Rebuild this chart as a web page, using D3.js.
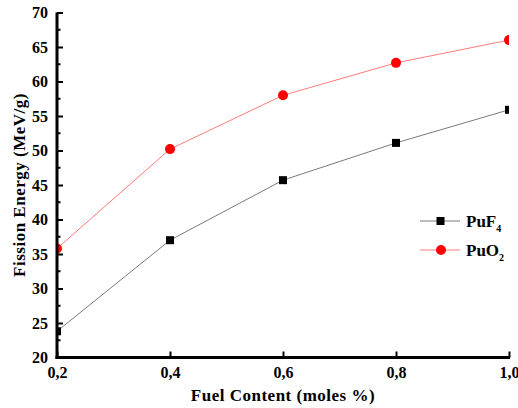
<!DOCTYPE html>
<html>
<head>
<meta charset="utf-8">
<script src="https://cdn.jsdelivr.net/npm/d3@7"></script>
<style>
    body { margin: 0; background: #fff; }
    text { font-family: "Liberation Serif", "Times New Roman", serif; font-weight: bold; fill: #000; }
</style>
</head>
<body>
<div class="chart__container"></div>
<script>
/*---------------------------Data---------------------------*/

const fuelContent = [0.2, 0.4, 0.6, 0.8, 1.0];
const puf4Energy = [23.8, 37.0, 45.7, 51.1, 55.9];
const puo2Energy = [35.8, 50.2, 58.0, 62.7, 66.0];
const xTicks = [0.2, 0.4, 0.6, 0.8, 1.0];
const yTicks = [20, 25, 30, 35, 40, 45, 50, 55, 60, 65, 70];
const yMinorTicks = [22.5, 27.5, 32.5, 37.5, 42.5, 47.5, 52.5, 57.5, 62.5, 67.5];

/*---------------------------Init---------------------------*/

const WIDTH = 518;
const HEIGHT = 408;
const MARGIN = { top: 12.5, right: 9, bottom: 50.5, left: 57 };

const svg = d3.select(".chart__container").append("svg")
    .attr("width", WIDTH)
    .attr("height", HEIGHT);

const xScale = d3.scaleLinear().domain([0.2, 1.0]).range([MARGIN.left, WIDTH - MARGIN.right]);
const yScale = d3.scaleLinear().domain([20, 70]).range([HEIGHT - MARGIN.bottom, MARGIN.top]);

//clip so edge markers are cut like the original

svg.append("clipPath").attr("id", "plot-clip")
    .append("rect")
    .attr("x", MARGIN.left)
    .attr("y", MARGIN.top)
    .attr("width", WIDTH - MARGIN.left - MARGIN.right)
    .attr("height", HEIGHT - MARGIN.top - MARGIN.bottom);

//series

const plot = svg.append("g").attr("clip-path", "url(#plot-clip)");

const line = d3.line().x(d => xScale(d[0])).y(d => yScale(d[1]));

const puf4 = fuelContent.map((x, i) => [x, puf4Energy[i]]);
const puo2 = fuelContent.map((x, i) => [x, puo2Energy[i]]);

plot.append("path").datum(puf4)
    .attr("d", line).attr("fill", "none")
    .attr("stroke", "#7a7a7a").attr("stroke-width", 1);

plot.append("path").datum(puo2)
    .attr("d", line).attr("fill", "none")
    .attr("stroke", "#ff7b7b").attr("stroke-width", 1);

plot.selectAll(".sq").data(puf4).enter().append("rect")
    .attr("class", "sq")
    .attr("x", d => xScale(d[0]) - 4)
    .attr("y", d => yScale(d[1]) - 4)
    .attr("width", 8).attr("height", 8)
    .attr("fill", "#000");

plot.selectAll(".dot").data(puo2).enter().append("circle")
    .attr("class", "dot")
    .attr("cx", d => xScale(d[0]))
    .attr("cy", d => yScale(d[1]))
    .attr("r", 5)
    .attr("fill", "#ff0000");

//x-axis

const xAxis = d3.axisBottom(xScale)
    .tickValues(xTicks)
    .tickSize(-6)
    .tickPadding(9)
    .tickFormat(d => d3.format(".1f")(d).replace(".", ","));

const gx = svg.append("g")
    .attr("transform", `translate(0,${HEIGHT - MARGIN.bottom})`)
    .call(xAxis);
gx.select(".domain").remove();
gx.selectAll(".tick line").attr("stroke", "#000").attr("stroke-width", 2);
gx.selectAll(".tick text").attr("font-size", 16);
gx.append("line")
    .attr("x1", MARGIN.left - 1.5).attr("x2", WIDTH - MARGIN.right + 1)
    .attr("stroke", "#000").attr("stroke-width", 3);

//y-axis

const yAxis = d3.axisLeft(yScale)
    .tickValues(yTicks)
    .tickSize(-6)
    .tickPadding(9);

const gy = svg.append("g")
    .attr("transform", `translate(${MARGIN.left},0)`)
    .call(yAxis);
gy.select(".domain").remove();
gy.selectAll(".tick line").attr("stroke", "#000").attr("stroke-width", 2);
gy.selectAll(".tick text").attr("font-size", 16);

gy.selectAll(".minor").data(yMinorTicks).enter().append("line")
    .attr("class", "minor")
    .attr("x1", 0).attr("x2", 3.5)
    .attr("y1", d => yScale(d)).attr("y2", d => yScale(d))
    .attr("stroke", "#000").attr("stroke-width", 2);

gy.append("line")
    .attr("y1", MARGIN.top).attr("y2", HEIGHT - MARGIN.bottom + 1.5)
    .attr("stroke", "#000").attr("stroke-width", 3);

//axis titles

svg.append("text")
    .attr("x", 283).attr("y", 401)
    .attr("text-anchor", "middle")
    .attr("font-size", 17)
    .attr("letter-spacing", 0.5)
    .text("Fuel Content (moles %)");

svg.append("text")
    .attr("transform", "translate(25,185) rotate(-90)")
    .attr("text-anchor", "middle")
    .attr("font-size", 17)
    .attr("letter-spacing", 0.5)
    .text("Fission Energy (MeV/g)");

//legend

const legend = svg.append("g");

legend.append("line")
    .attr("x1", 420).attr("x2", 460).attr("y1", 221).attr("y2", 221)
    .attr("stroke", "#7a7a7a").attr("stroke-width", 1);
legend.append("rect")
    .attr("x", 436.5).attr("y", 217).attr("width", 8).attr("height", 8)
    .attr("fill", "#000");
const t1 = legend.append("text").attr("x", 466).attr("y", 227).attr("font-size", 17);
t1.append("tspan").text("PuF");
t1.append("tspan").attr("font-size", 10).attr("dy", 5).text("4");

legend.append("line")
    .attr("x1", 420).attr("x2", 460).attr("y1", 250).attr("y2", 250)
    .attr("stroke", "#ff7b7b").attr("stroke-width", 1);
legend.append("circle")
    .attr("cx", 441).attr("cy", 250).attr("r", 5)
    .attr("fill", "#ff0000");
const t2 = legend.append("text").attr("x", 466).attr("y", 256).attr("font-size", 17);
t2.append("tspan").text("PuO");
t2.append("tspan").attr("font-size", 10).attr("dy", 5).text("2");
</script>
</body>
</html>
